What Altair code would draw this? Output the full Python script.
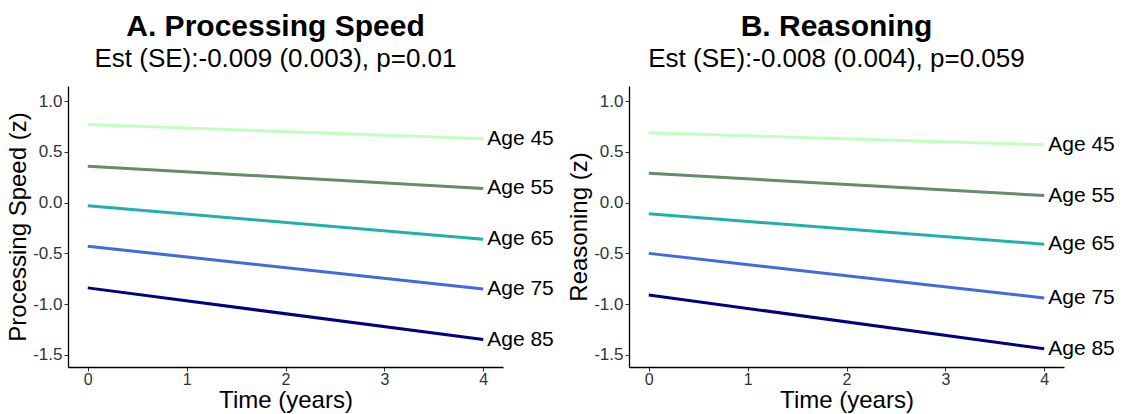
import altair as alt
import pandas as pd

ages = ["Age 45", "Age 55", "Age 65", "Age 75", "Age 85"]
colors = ["#C1FFC1", "#698B69", "#20B2AA", "#4169E1", "#000080"]
times = [0, 4]

# Panel A: Processing Speed (start at time 0, end at time 4)
ps_start = [0.77, 0.36, -0.03, -0.43, -0.84]
ps_end = [0.63, 0.14, -0.36, -0.85, -1.35]

# Panel B: Reasoning
rs_start = [0.69, 0.29, -0.11, -0.50, -0.91]
rs_end = [0.57, 0.07, -0.41, -0.94, -1.44]

x_ticks = [0, 1, 2, 3, 4]
y_ticks = [-1.5, -1.0, -0.5, 0.0, 0.5, 1.0]

FONT = "Liberation Sans"


def make_df(starts, ends):
    rows = []
    for a, s, e in zip(ages, starts, ends):
        rows.append({"age": a, "time": times[0], "value": s})
        rows.append({"age": a, "time": times[1], "value": e})
    return pd.DataFrame(rows)


ylabel_expr = "datum.value < 0 ? '-' + format(-datum.value, '.1f') : format(datum.value, '.1f')"


def panel(df, title, subtitle, ytitle):
    x = alt.X("time:Q", scale=alt.Scale(domain=[-0.2, 4.2], nice=False, zero=False),
              axis=alt.Axis(values=x_ticks, title="Time (years)", format="d",
                            titleBaseline="alphabetic", titleY=40, labelPadding=0,
                            labelFontSize=16))
    y = alt.Y("value:Q", scale=alt.Scale(domain=[-1.62, 1.15], nice=False, zero=False),
              axis=alt.Axis(values=y_ticks, title=ytitle, labelExpr=ylabel_expr))
    color = alt.Color("age:N", scale=alt.Scale(domain=ages, range=colors), legend=None)
    lines = alt.Chart(df).mark_line(strokeWidth=3).encode(x=x, y=y, color=color, detail="age:N")
    labels = alt.Chart(df).transform_filter("datum.time == 4").mark_text(
        align="left", baseline="middle", dx=4, fontSize=21, font=FONT, color="black"
    ).encode(x=x, y=y, text="age:N")
    return alt.layer(lines, labels).properties(
        width=435, height=281,
        title=alt.TitleParams(
            text=title, subtitle=subtitle, fontSize=30, fontWeight="bold", font=FONT,
            subtitleFontSize=26, subtitleFont=FONT, subtitleColor="black", color="black",
            anchor="middle", subtitlePadding=4, offset=14, dx=-10,
        ),
    )


a = panel(make_df(ps_start, ps_end), "A. Processing Speed",
          "Est (SE):-0.009 (0.003), p=0.01", "Processing Speed (z)")
b = panel(make_df(rs_start, rs_end), "B. Reasoning",
          "Est (SE):-0.008 (0.004), p=0.059", "Reasoning (z)")

chart = alt.hconcat(a, b, spacing=13).properties(
    padding={"left": 6, "top": 12, "right": 5, "bottom": 3}
).configure_view(stroke=None).configure_axis(
    grid=False, domainColor="black", domainWidth=1.3, tickColor="#333333", tickSize=4,
    labelColor="#333333", labelFont=FONT, labelFontSize=17, labelPadding=2,
    titleFont=FONT, titleFontSize=24, titleFontWeight="normal", titleColor="black",
    titlePadding=2,
)

chart.save("out.html", embed_options={"renderer": "svg", "actions": False})
